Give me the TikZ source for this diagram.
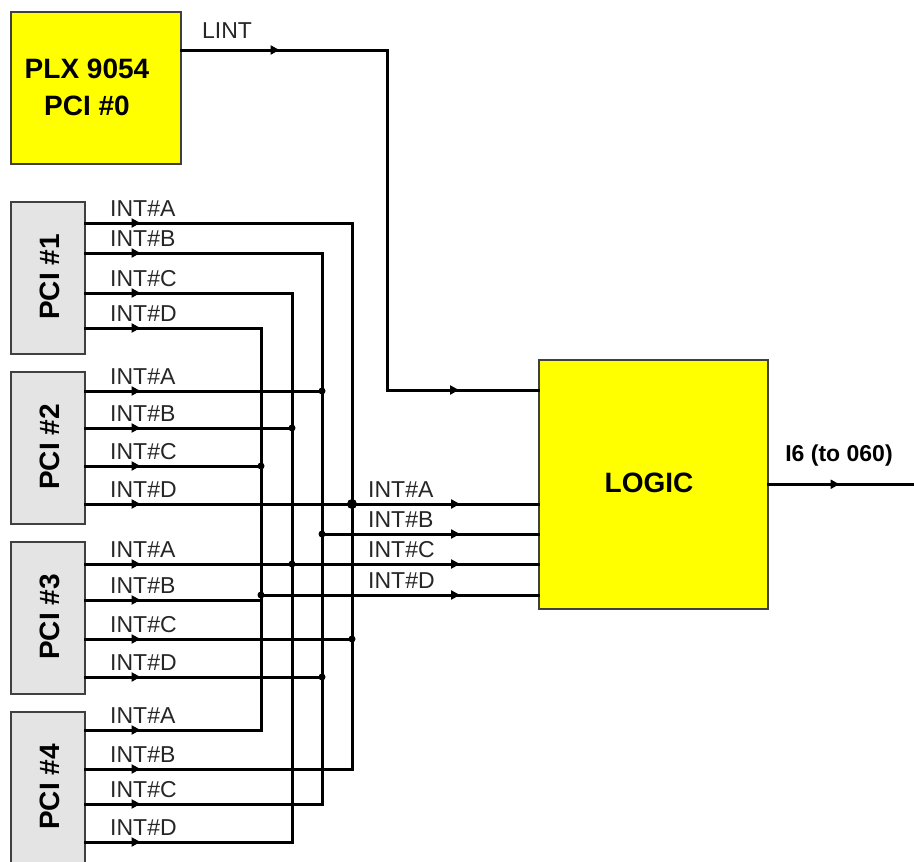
\documentclass[tikz,border=0pt]{standalone}
\usepackage{fontspec}
\setmainfont{Liberation Sans}
\usetikzlibrary{arrows.meta,decorations.markings}
\definecolor{pcigray}{HTML}{E4E4E4}
\definecolor{boxline}{HTML}{404040}
\definecolor{logicyellow}{HTML}{FFFF00}
\tikzset{
  wire/.style={line width=3pt, black, line cap=rect},
  tipmark/.style={postaction={decorate},
    decoration={markings, mark=at position #1 with {\arrow{Triangle[length=9pt,width=9pt]}}}},
  twomarks/.style 2 args={postaction={decorate},
    decoration={markings,
      mark=at position #1 with {\arrow{Triangle[length=9pt,width=9pt]}},
      mark=at position #2 with {\arrow{Triangle[length=9pt,width=9pt]}}}},
  pmark/.style={tipmark=55pt},
  omark/.style={tipmark=-78pt},
  box/.style={draw=boxline, line width=1.5pt, inner sep=0pt, anchor=north west},
  pcibox/.style={box, fill=pcigray, minimum width=74pt, minimum height=152pt},
  yellowbox/.style={box, fill=logicyellow},
  pcitext/.style={font=\bfseries\fontsize{28}{28}\selectfont, rotate=90, inner sep=0pt},
  lbl/.style={font=\fontsize{23}{23}\selectfont, anchor=west, inner sep=0pt, text=black!85},
  jdot/.style={fill=black},
}
\begin{document}
\begin{tikzpicture}[x=1pt,y=-1pt]
\useasboundingbox (0,0) rectangle (914,862);
\clip (0,0) rectangle (914,862);

% boxes
\node[yellowbox, minimum width=170pt, minimum height=152pt] (plx) at (10,11) {};
\node[font=\bfseries\fontsize{28}{37}\selectfont, align=center, inner sep=0pt] (plxtxt) at (87,87) {PLX 9054\\PCI \#0};
\node[pcibox] (pci1) at (10,201) {};
\node[pcibox] (pci2) at (10,371) {};
\node[pcibox] (pci3) at (10,541) {};
\node[pcibox] (pci4) at (10,711) {};
\node[pcitext] (t1) at (50,277) {PCI \#1};
\node[pcitext] (t2) at (50,447) {PCI \#2};
\node[pcitext] (t3) at (50,617) {PCI \#3};
\node[pcitext] (t4) at (50,787) {PCI \#4};
\node[yellowbox, minimum width=229pt, minimum height=249pt] (logic) at (538,359) {};
\node[font=\bfseries\fontsize{28}{28}\selectfont, inner sep=0pt] (logictxt) at (649,483) {LOGIC};

% bus coordinates
\coordinate (p1a) at (352,223); \coordinate (p1b) at (322,253);
\coordinate (p1c) at (292,293); \coordinate (p1d) at (261,328);
\coordinate (p2a) at (322,391); \coordinate (p2b) at (292,428);
\coordinate (p2c) at (261,466); \coordinate (p2d) at (352,504);
\coordinate (p3a) at (292,564); \coordinate (p3b) at (261,600);
\coordinate (p3c) at (352,639); \coordinate (p3d) at (322,677);
\coordinate (p4a) at (261,730); \coordinate (p4b) at (352,769);
\coordinate (p4c) at (322,804); \coordinate (p4d) at (292,842);
\coordinate (ob) at (322,534); \coordinate (od) at (261,595);
\coordinate (lc1) at (387,50); \coordinate (lc2) at (387,390);
\coordinate (i6end) at (920,484);

% vertical buses
\draw[wire] (p1a) -- (p4b);
\draw[wire] (p1b) -- (p4c);
\draw[wire] (p1c) -- (p4d);
\draw[wire] (p1d) -- (p4a);

% PCI 1
\draw[wire, pmark] (pci1.east |- p1a) -- (p1a);
\draw[wire, pmark] (pci1.east |- p1b) -- (p1b);
\draw[wire, pmark] (pci1.east |- p1c) -- (p1c);
\draw[wire, pmark] (pci1.east |- p1d) -- (p1d);
% PCI 2
\draw[wire, pmark] (pci2.east |- p2a) -- (p2a);
\draw[wire, pmark] (pci2.east |- p2b) -- (p2b);
\draw[wire, pmark] (pci2.east |- p2c) -- (p2c);
\draw[wire, twomarks={55pt}{-78pt}] (pci2.east |- p2d) -- (logic.west |- p2d);
% PCI 3
\draw[wire, twomarks={55pt}{-78pt}] (pci3.east |- p3a) -- (logic.west |- p3a);
\draw[wire, pmark] (pci3.east |- p3b) -- (p3b);
\draw[wire, pmark] (pci3.east |- p3c) -- (p3c);
\draw[wire, pmark] (pci3.east |- p3d) -- (p3d);
% PCI 4
\draw[wire, pmark] (pci4.east |- p4a) -- (p4a);
\draw[wire, pmark] (pci4.east |- p4b) -- (p4b);
\draw[wire, pmark] (pci4.east |- p4c) -- (p4c);
\draw[wire, pmark] (pci4.east |- p4d) -- (p4d);
% outputs B and D
\draw[wire, omark] (ob) -- (logic.west |- ob);
\draw[wire, omark] (od) -- (logic.west |- od);

% LINT
\draw[wire, line join=miter, twomarks={98pt}{-79pt}] (plx.east |- lc1) -- (lc1) -- (lc2) -- (logic.west |- lc2);
% I6
\draw[wire, tipmark=71pt] (logic.east) -- (logic.east -| i6end);

% junction dots
\fill[jdot] (p2d) circle (5pt);
\foreach \j in {p3c,p2a,ob,p3d,p2b,p3a,p2c,od} \fill[jdot] (\j) circle (3.5pt);

% labels
\node[lbl] (lint) at (202,31) {LINT};
\foreach \y/\n in {223/A,253/B,293/C,328/D,391/A,428/B,466/C,504/D,564/A,600/B,639/C,677/D,730/A,769/B,804/C,842/D}
  \node[lbl] (lab\y) at (110,\y-14) {INT\#\n};
\node[lbl] (oal) at (368,490) {INT\#A};
\node[lbl] (obl) at (368,520) {INT\#B};
\node[lbl] (ocl) at (368,550) {INT\#C};
\node[lbl] (odl) at (368,581) {INT\#D};
\node[font=\bfseries\fontsize{23}{23}\selectfont, inner sep=0pt] (i6) at (839,456) {I6 (to 060)};
\end{tikzpicture}
\end{document}
